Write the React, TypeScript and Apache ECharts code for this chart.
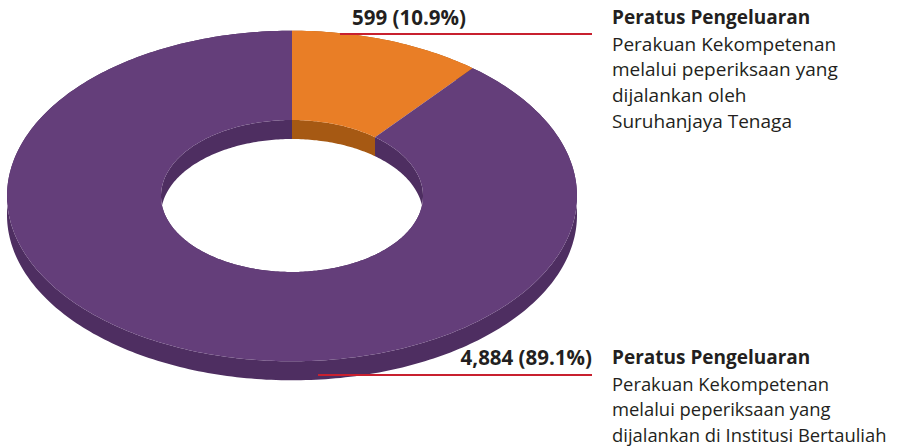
import React, { useEffect, useRef } from "react";
import * as echarts from "echarts";

// ---- data ----
const values = [599, 4884];
const titles = ["Peratus Pengeluaran", "Peratus Pengeluaran"];
const descriptions = [
  ["Perakuan Kekompetenan", "melalui peperiksaan yang", "dijalankan oleh", "Suruhanjaya Tenaga"],
  ["Perakuan Kekompetenan", "melalui peperiksaan yang", "dijalankan di Institusi Bertauliah"],
];

// ---- styles ----
const topColors = ["#E97E26", "#643E7A"];
const wallColors = ["#A65913", "#4E2E61"];
const textColor = "#231F20";
const lineColor = "#C8202F";
const FONT = "'Open Sans', 'Noto Sans', sans-serif";

// geometry
const CX = 292;
const CY = 196;
const R = 285;
const RI = 131;
const SY = 0.58;
const T = 19;

const total = values.reduce((a, b) => a + b, 0);

function pt(rad: number, a: number, dy = 0): number[] {
  return [CX + rad * Math.sin(a), CY - rad * SY * Math.cos(a) + dy];
}

function arc(rad: number, a1: number, a2: number, dy = 0): number[][] {
  const n = Math.max(8, Math.ceil((Math.abs(a2 - a1) / (Math.PI * 2)) * 360));
  const pts: number[][] = [];
  for (let k = 0; k <= n; k++) {
    pts.push(pt(rad, a1 + ((a2 - a1) * k) / n, dy));
  }
  return pts;
}

function fmt(v: number) {
  return v.toLocaleString("en-US");
}

export default function App() {
  const ref = useRef<HTMLDivElement>(null);

  useEffect(() => {
    document.body.style.margin = "0";
    if (!ref.current) return;
    const chart = echarts.init(ref.current, undefined, { renderer: "svg" });

    const pct = values.map((v) => ((v / total) * 100).toFixed(1));

    const option: any = {
      animation: false,
      backgroundColor: "#ffffff",
      series: [
        {
          type: "custom",
          coordinateSystem: "none",
          silent: true,
          data: values.map((v) => [v]),
          renderItem: (params: any, api: any) => {
            const i = params.dataIndex;
            const v = api.value(0) as number;
            let before = 0;
            for (let k = 0; k < i; k++) before += values[k];
            const a1 = (before / total) * Math.PI * 2;
            const a2 = ((before + v) / total) * Math.PI * 2;

            const outerWall = arc(R, a1, a2, 0).concat(arc(R, a2, a1, T));
            const innerWall = arc(RI, a1, a2, 0).concat(arc(RI, a2, a1, T));
            const top = arc(R, a1, a2, 0).concat(arc(RI, a2, a1, 0));

            return {
              type: "group",
              children: [
                {
                  type: "polygon",
                  z2: 1,
                  shape: { points: outerWall },
                  style: { fill: wallColors[i] },
                },
                {
                  type: "polygon",
                  z2: 2,
                  shape: { points: innerWall },
                  style: { fill: wallColors[i] },
                },
                {
                  type: "polygon",
                  z2: 10,
                  shape: { points: top },
                  style: { fill: topColors[i] },
                },
              ],
            };
          },
        },
      ],
      graphic: [
        // top label
        {
          type: "line",
          shape: { x1: 340, y1: 34, x2: 592, y2: 34 },
          style: { stroke: lineColor, lineWidth: 2 },
          z: 20,
        },
        {
          type: "text",
          x: 409,
          y: 17,
          z: 20,
          style: {
            text: `${fmt(values[0])} (${pct[0]}%)`,
            fill: textColor,
            font: `bold 20.5px ${FONT}`,
            align: "center",
            verticalAlign: "middle",
            textAlign: "center",
            textVerticalAlign: "middle",
          },
        },
        {
          type: "text",
          x: 612,
          y: 17,
          z: 20,
          style: {
            text: titles[0],
            fill: textColor,
            font: `bold 19px ${FONT}`,
            align: "left",
            verticalAlign: "middle",
            textAlign: "left",
            textVerticalAlign: "middle",
          },
        },
        {
          type: "text",
          x: 612,
          y: 31,
          z: 20,
          style: {
            text: descriptions[0].join("\n"),
            fill: textColor,
            font: `19px ${FONT}`,
            lineHeight: 25.6,
            align: "left",
            verticalAlign: "top",
            textAlign: "left",
            textVerticalAlign: "top",
          },
        },
        // bottom label
        {
          type: "line",
          shape: { x1: 318, y1: 375, x2: 592, y2: 375 },
          style: { stroke: lineColor, lineWidth: 2 },
          z: 20,
        },
        {
          type: "text",
          x: 592,
          y: 357,
          z: 20,
          style: {
            text: `${fmt(values[1])} (${pct[1]}%)`,
            fill: textColor,
            font: `bold 20.5px ${FONT}`,
            align: "right",
            verticalAlign: "middle",
            textAlign: "right",
            textVerticalAlign: "middle",
          },
        },
        {
          type: "text",
          x: 612,
          y: 357,
          z: 20,
          style: {
            text: titles[1],
            fill: textColor,
            font: `bold 19px ${FONT}`,
            align: "left",
            verticalAlign: "middle",
            textAlign: "left",
            textVerticalAlign: "middle",
          },
        },
        {
          type: "text",
          x: 612,
          y: 371,
          z: 20,
          style: {
            text: descriptions[1].join("\n"),
            fill: textColor,
            font: `18.4px ${FONT}`,
            lineHeight: 25.3,
            align: "left",
            verticalAlign: "top",
            textAlign: "left",
            textVerticalAlign: "top",
          },
        },
      ],
    };

    chart.setOption(option);
    return () => chart.dispose();
  }, []);

  return <div ref={ref} style={{ width: 904, height: 448 }} />;
}
